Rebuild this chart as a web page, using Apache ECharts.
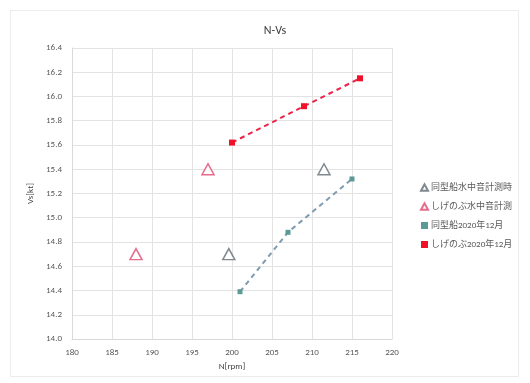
<!DOCTYPE html>
<html>
<head>
<meta charset="utf-8">
<script src="https://cdn.jsdelivr.net/npm/echarts@6/dist/echarts.min.js"></script>
<style>
  html, body { margin: 0; padding: 0; background: #fff; }
  #chart { width: 530px; height: 383px; }
</style>
</head>
<body>
<div id="chart"></div>
<script>
// N (rpm) vs ship speed Vs (kt)
const seriesNames = ['同型船水中音計測時', 'しげのぶ水中音計測', '同型船2020年12月', 'しげのぶ2020年12月'];
const sisterMeasured = [[199.6, 14.7], [211.5, 15.4]];
const shigenobuMeasured = [[188, 14.7], [197, 15.4]];
const sister2020 = [[201, 14.39], [207, 14.88], [215, 15.32]];
const shigenobu2020 = [[200, 15.62], [209, 15.92], [216, 16.15]];

const triPath = 'path://M0,10 L5.5,0 L11,10 Z';
const chart = echarts.init(document.getElementById('chart'));
const font = 'Calibri, "Liberation Sans", "Noto Sans CJK JP", sans-serif';

chart.setOption({
  backgroundColor: '#fff',
  animation: false,
  textStyle: { fontFamily: font },
  graphic: [{
    type: 'rect', silent: true, z: -1,
    shape: { x: 10.5, y: 10.5, width: 508, height: 366 },
    style: { fill: 'none', stroke: '#ececec', lineWidth: 1 }
  }],
  title: {
    text: 'N-Vs', left: 270, top: 20, textAlign: 'center',
    textStyle: { fontSize: 12, fontWeight: 'normal', color: '#404040', fontFamily: font }
  },
  grid: { left: 72, right: 138, top: 48, bottom: 44 },
  legend: {
    orient: 'vertical', left: 415, top: 178, itemGap: 10,
    itemWidth: 7, itemHeight: 7,
    textStyle: { fontSize: 9, color: '#595959', fontFamily: font, padding: [0, 0, 0, -2] },
    data: [
      { name: seriesNames[0], icon: triPath },
      { name: seriesNames[1], icon: triPath },
      { name: seriesNames[2], icon: 'rect' },
      { name: seriesNames[3], icon: 'rect' }
    ]
  },
  xAxis: {
    type: 'value', min: 180, max: 220, interval: 5,
    name: 'N[rpm]', nameLocation: 'middle', nameGap: 20,
    nameTextStyle: { fontSize: 9, color: '#404040' },
    axisLine: { lineStyle: { color: '#d9d9d9' } },
    axisTick: { show: false },
    axisLabel: { fontSize: 9, color: '#595959', margin: 9 },
    splitLine: { lineStyle: { color: '#e3e3e3' } }
  },
  yAxis: {
    type: 'value', min: 14.0, max: 16.4, interval: 0.2,
    name: 'Vs[kt]', nameLocation: 'middle', nameGap: 32,
    nameTextStyle: { fontSize: 9, color: '#404040' },
    axisLine: { show: true, lineStyle: { color: '#d9d9d9' } },
    axisTick: { show: false },
    axisLabel: { fontSize: 9, color: '#595959', margin: 10, formatter: v => v.toFixed(1) },
    splitLine: { lineStyle: { color: '#e3e3e3' } }
  },
  series: [
    {
      name: seriesNames[0], type: 'scatter', data: sisterMeasured,
      symbol: triPath, symbolSize: [12, 11],
      itemStyle: { color: '#fff', borderColor: '#5f6b73', borderWidth: 1.5 }
    },
    {
      name: seriesNames[1], type: 'scatter', data: shigenobuMeasured,
      symbol: triPath, symbolSize: [12, 11],
      itemStyle: { color: '#fff', borderColor: '#e0476e', borderWidth: 1.5 }
    },
    {
      name: seriesNames[2], type: 'line', data: sister2020,
      symbol: 'rect', symbolSize: 5,
      itemStyle: { color: '#5b9a96' },
      lineStyle: { color: '#7e9bb0', width: 2, type: [5, 4] }
    },
    {
      name: seriesNames[3], type: 'line', data: shigenobu2020,
      symbol: 'rect', symbolSize: 6,
      itemStyle: { color: '#f0102a' },
      lineStyle: { color: '#e8254a', width: 2, type: [5, 4] }
    }
  ]
});
</script>
</body>
</html>
